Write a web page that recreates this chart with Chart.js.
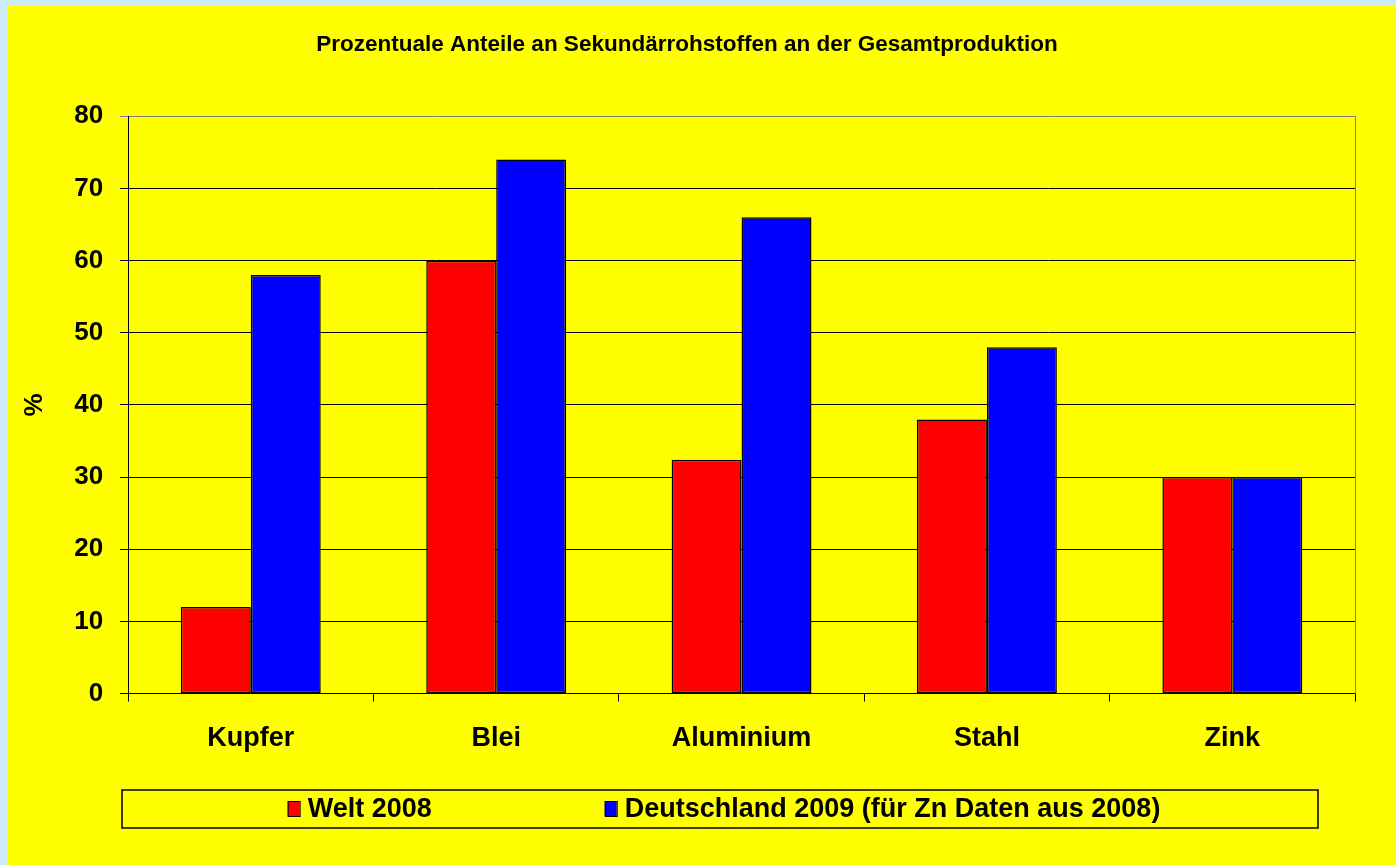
<!DOCTYPE html>
<html>
<head>
<meta charset="utf-8">
<script src="https://cdn.jsdelivr.net/npm/chart.js@4"></script>
<style>
  body { margin: 0; overflow: hidden; background: #cdeaf7; }
  #wrap { width: 1396px; height: 865px; position: relative; }
</style>
</head>
<body>
<div id="wrap"><canvas id="grafica"></canvas></div>
<script>
const kategorien = ['Kupfer', 'Blei', 'Aluminium', 'Stahl', 'Zink'];
const welt2008 = [12, 60, 32.4, 38, 30];
const deutschland2009 = [58, 74, 66, 48, 30];
const serienNamen = ['Welt 2008', 'Deutschland 2009 (für Zn Daten aus 2008)'];
const yTicks = [0, 10, 20, 30, 40, 50, 60, 70, 80];

const schrift = 'Arial, "Liberation Sans", sans-serif';

// Hintergrund: hellblauer Rand, gelbe Fläche
const hintergrund = {
    id: 'hintergrund',
    beforeDraw(chart) {
        const ctx = chart.ctx;
        ctx.save();
        ctx.fillStyle = '#cdeaf7';
        ctx.fillRect(0, 0, chart.width, chart.height);
        ctx.fillStyle = '#ffff00';
        ctx.fillRect(7, 6, chart.width - 7, chart.height - 6);
        ctx.restore();
    }
};

// rechter Rahmen der Zeichenfläche (grau)
const rahmen = {
    id: 'rahmen',
    afterDatasetsDraw(chart) {
        const a = chart.chartArea;
        const ctx = chart.ctx;
        ctx.save();
        ctx.strokeStyle = '#808080';
        ctx.lineWidth = 1;
        ctx.beginPath();
        ctx.moveTo(Math.round(a.right) + 0.5, a.top);
        ctx.lineTo(Math.round(a.right) + 0.5, a.bottom);
        ctx.stroke();
        ctx.restore();
    }
};

// Legende im Kasten unten
const kastenLegende = {
    id: 'kastenLegende',
    afterDraw(chart) {
        const ctx = chart.ctx;
        const box = { x: 122, y: 790, w: 1196, h: 38 };
        ctx.save();
        ctx.strokeStyle = '#000';
        ctx.lineWidth = 1.5;
        ctx.strokeRect(box.x, box.y, box.w, box.h);

        ctx.font = 'bold 27px ' + schrift;
        ctx.textBaseline = 'middle';
        const quad = 12, luecke = 8, abstand = 173;
        const items = chart.data.datasets.map(ds => ({
            text: ds.label, farbe: ds.backgroundColor, w: ctx.measureText(ds.label).width
        }));
        let gesamt = 0;
        items.forEach((it, i) => { gesamt += quad + luecke + it.w + (i > 0 ? abstand : 0); });
        let x = box.x + (box.w - gesamt) / 2 + 4;
        const mitte = box.y + box.h / 2;
        items.forEach((it, i) => {
            if (i > 0) x += abstand;
            ctx.fillStyle = it.farbe;
            ctx.fillRect(x, mitte - 8, quad, 15);
            ctx.strokeStyle = '#000';
            ctx.lineWidth = 1;
            ctx.strokeRect(x + 0.5, mitte - 7.5, quad, 15);
            x += quad + luecke;
            ctx.fillStyle = '#000';
            ctx.fillText(it.text, x, mitte + 1);
            x += it.w;
        });
        ctx.restore();
    }
};

new Chart(document.getElementById('grafica'), {
    type: 'bar',
    data: {
        labels: kategorien,
        datasets: [
            {
                label: serienNamen[0],
                data: welt2008,
                backgroundColor: '#ff0000',
                borderColor: '#000',
                borderWidth: 1.5,
                borderSkipped: false
            },
            {
                label: serienNamen[1],
                data: deutschland2009,
                backgroundColor: '#0000ff',
                borderColor: '#000',
                borderWidth: 1.5,
                borderSkipped: false
            }
        ]
    },
    options: {
        responsive: true,
        maintainAspectRatio: false,
        animation: false,
        categoryPercentage: 0.57,
        barPercentage: 1.0,
        layout: {
            padding: { top: 6, left: 19, right: 41, bottom: 89 }
        },
        scales: {
            x: {
                grid: {
                    display: true,
                    drawOnChartArea: false,
                    drawTicks: true,
                    tickLength: 8,
                    color: '#000',
                    offset: true
                },
                border: { color: '#000', width: 1 },
                ticks: {
                    color: '#000',
                    padding: 21,
                    font: { family: schrift, size: 27, weight: 'bold' }
                }
            },
            y: {
                min: 0,
                max: 80,
                afterBuildTicks(scale) {
                    scale.ticks = yTicks.map(v => ({ value: v }));
                },
                grid: {
                    color: c => (c.tick && c.tick.value === 80) ? '#808080' : '#000',
                    lineWidth: 1,
                    tickLength: 8
                },
                border: { color: '#000', width: 1 },
                ticks: {
                    color: '#000',
                    padding: 17,
                    font: { family: schrift, size: 26, weight: 'bold' }
                },
                title: {
                    display: true,
                    text: '%',
                    color: '#000',
                    padding: { top: 0, bottom: 7 },
                    font: { family: schrift, size: 26, weight: 'bold' }
                }
            }
        },
        plugins: {
            legend: { display: false },
            tooltip: { enabled: false },
            title: {
                display: true,
                text: 'Prozentuale Anteile an Sekundärrohstoffen an der Gesamtproduktion',
                color: '#000',
                padding: { top: 25, bottom: 58.3 },
                font: { family: schrift, size: 22.5, weight: 'bold' }
            }
        }
    },
    plugins: [hintergrund, rahmen, kastenLegende]
});
</script>
</body>
</html>
